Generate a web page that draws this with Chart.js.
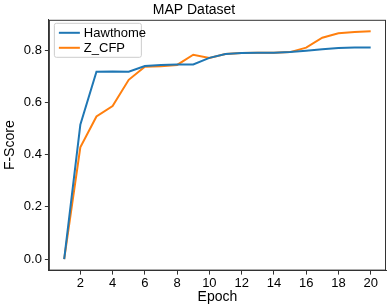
<!DOCTYPE html>
<html>
<head>
<meta charset="utf-8">
<script src="https://cdn.jsdelivr.net/npm/chart.js@4/dist/chart.umd.min.js"></script>
<style>
  html, body { margin: 0; padding: 0; background: #fff; }
  #wrap { width: 388px; height: 305px; }
</style>
</head>
<body>
<div id="wrap"><canvas id="map_chart"></canvas></div>
<script>
var epochs = [1,2,3,4,5,6,7,8,9,10,11,12,13,14,15,16,17,18,19,20];
var hawthome = [0.0,0.514,0.717,0.718,0.717,0.739,0.743,0.745,0.745,0.770,0.785,0.789,0.790,0.790,0.792,0.797,0.803,0.808,0.810,0.810];
var zcfp = [0.0,0.428,0.546,0.586,0.686,0.736,0.738,0.743,0.782,0.770,0.785,0.789,0.790,0.790,0.792,0.809,0.847,0.864,0.869,0.872];
var xTicks = [2,4,6,8,10,12,14,16,18,20];
var yTicks = [0.0,0.2,0.4,0.6,0.8];
var seriesNames = ["Hawthome", "Z_CFP"];
var seriesColors = ['#1f77b4', '#ff7f0e'];

var FONT = "'Liberation Sans', Arial, sans-serif";
Chart.defaults.font.family = FONT;
Chart.defaults.color = '#000';

function toPoints(vals) {
  return vals.map(function (v, i) { return { x: epochs[i], y: v }; });
}

// frame round the plot area plus the legend box inside it
var framePlugin = {
  id: 'frame',
  afterDraw: function (chart) {
    var ctx = chart.ctx, a = chart.chartArea;
    ctx.save();
    ctx.strokeStyle = '#333';
    ctx.lineWidth = 1;
    ctx.strokeRect(a.left + 0.5, a.top + 0.5, a.right - a.left - 1, a.bottom - a.top - 1);

    var bx = a.left + 5, by = a.top + 3, bw = 87, bh = 34;
    ctx.fillStyle = 'rgba(255,255,255,0.8)';
    ctx.strokeStyle = '#ccc';
    ctx.beginPath();
    ctx.roundRect(bx + 0.5, by + 0.5, bw, bh, 2);
    ctx.fill();
    ctx.stroke();
    ctx.font = '13px ' + FONT;
    ctx.textBaseline = 'middle';
    for (var i = 0; i < seriesNames.length; i++) {
      var yy = by + 10 + i * 15;
      ctx.strokeStyle = seriesColors[i];
      ctx.lineWidth = 2;
      ctx.beginPath();
      ctx.moveTo(bx + 5, yy);
      ctx.lineTo(bx + 26, yy);
      ctx.stroke();
      ctx.fillStyle = '#000';
      ctx.fillText(seriesNames[i], bx + 30, yy + 1);
    }
    ctx.restore();
  }
};

new Chart(document.getElementById('map_chart').getContext('2d'), {
  type: 'line',
  data: {
    datasets: [
      { label: seriesNames[0], data: toPoints(hawthome), borderColor: seriesColors[0], borderWidth: 2, pointRadius: 0, tension: 0, fill: false },
      { label: seriesNames[1], data: toPoints(zcfp), borderColor: seriesColors[1], borderWidth: 2, pointRadius: 0, tension: 0, fill: false }
    ]
  },
  options: {
    responsive: true,
    maintainAspectRatio: false,
    animation: false,
    layout: { padding: { left: 2, right: 2, top: 2, bottom: -1 } },
    plugins: {
      legend: { display: false },
      tooltip: { enabled: false },
      title: { display: true, text: 'MAP Dataset', font: { size: 14, weight: 'normal' }, color: '#000', padding: { top: 0, bottom: 1 } }
    },
    scales: {
      x: {
        type: 'linear',
        min: 0.05,
        max: 20.95,
        afterBuildTicks: function (s) { s.ticks = xTicks.map(function (v) { return { value: v }; }); },
        ticks: { font: { size: 13 }, color: '#000', padding: 1, maxRotation: 0 },
        grid: { drawOnChartArea: false, drawTicks: true, tickLength: 4, tickColor: '#333' },
        border: { display: true, color: '#333' },
        title: { display: true, text: 'Epoch', font: { size: 14 }, color: '#000', padding: { top: -3, bottom: 0 } }
      },
      y: {
        min: -0.0436,
        max: 0.9156,
        afterBuildTicks: function (s) { s.ticks = yTicks.map(function (v) { return { value: v }; }); },
        ticks: { font: { size: 13 }, color: '#000', padding: 3, callback: function (v) { return v.toFixed(1); } },
        grid: { drawOnChartArea: false, drawTicks: true, tickLength: 4, tickColor: '#333' },
        border: { display: true, color: '#333' },
        title: { display: true, text: 'F-Score', font: { size: 14 }, color: '#000', padding: { top: 0, bottom: 2 } }
      }
    }
  },
  plugins: [framePlugin]
});
</script>
</body>
</html>
